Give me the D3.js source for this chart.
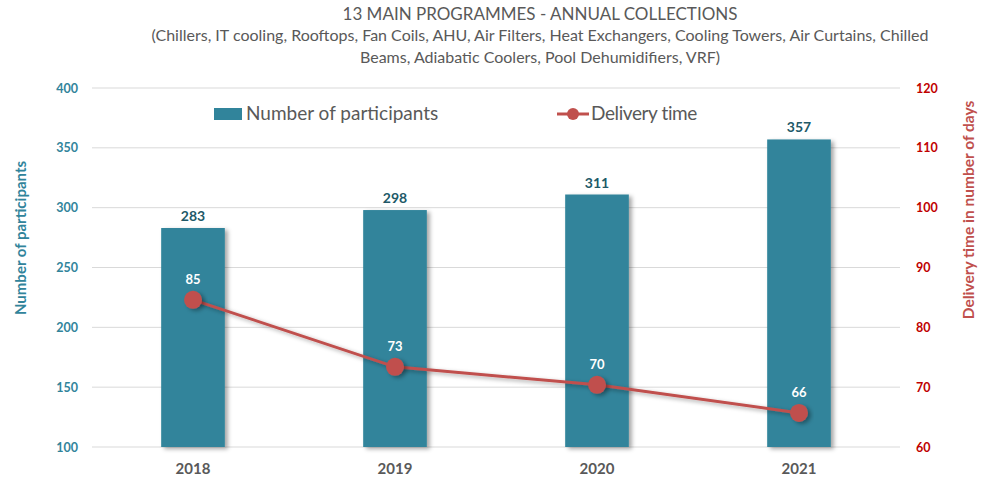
<!DOCTYPE html>
<html>
<head>
<meta charset="utf-8">
<script src="https://cdn.jsdelivr.net/npm/d3@7"></script>
<style>
  body { margin: 0; background: #fff; }
  svg { display: block; font-family: Lato, "Open Sans", sans-serif; }
</style>
</head>
<body>
<div id="chart"></div>
<script>
// chart values
const years = ["2018", "2019", "2020", "2021"]
const participants = [283, 298, 311, 357]
const deliveryDays = [84.6, 73.4, 70.4, 65.7]
const deliveryLabels = [85, 73, 70, 66]
const leftTicks = [100, 150, 200, 250, 300, 350, 400]
const rightTicks = [60, 70, 80, 90, 100, 110, 120]

const width = 1006, height = 494
const margin = {top: 88, right: 106, bottom: 47, left: 92}
const innerW = width - margin.left - margin.right
const innerH = height - margin.top - margin.bottom

const barColor = "#31849b"
const lineColor = "#c0504d"

const svg = d3.select("#chart").append("svg")
    .attr("width", width)
    .attr("height", height)

// drop shadows like the spreadsheet original
const defs = svg.append("defs")
defs.append("filter").attr("id", "shadow")
    .attr("x", "-20%").attr("y", "-20%").attr("width", "150%").attr("height", "150%")
  .append("feDropShadow")
    .attr("dx", 3).attr("dy", 2).attr("stdDeviation", 2)
    .attr("flood-color", "#000").attr("flood-opacity", 0.35)

// titles
svg.append("text")
    .attr("x", 540).attr("y", 20)
    .attr("text-anchor", "middle")
    .attr("fill", "#595959")
    .style("font-size", "17px")
    .text("13 MAIN PROGRAMMES - ANNUAL COLLECTIONS")

const subLines = [
  "(Chillers, IT cooling, Rooftops, Fan Coils, AHU, Air Filters, Heat Exchangers, Cooling Towers, Air Curtains, Chilled",
  "Beams, Adiabatic Coolers, Pool Dehumidifiers, VRF)"
]
svg.append("g").selectAll("text")
  .data(subLines)
  .join("text")
    .attr("x", 540)
    .attr("y", (d, i) => 41 + i * 22)
    .attr("text-anchor", "middle")
    .attr("fill", "#595959")
    .style("font-size", "16px")
    .text(d => d)

const g = svg.append("g")
    .attr("transform", `translate(${margin.left},${margin.top})`)

const x = d3.scaleBand()
    .domain(years)
    .range([0, innerW])
    .paddingInner(0.685)
    .paddingOuter(0.3425)

const yLeft = d3.scaleLinear()
    .domain([100, 400])
    .range([innerH, 0])

const yRight = d3.scaleLinear()
    .domain([60, 120])
    .range([innerH, 0])

// gridlines
g.append("g")
  .selectAll("line")
  .data(leftTicks)
  .join("line")
    .attr("x1", 0).attr("x2", innerW)
    .attr("y1", d => yLeft(d)).attr("y2", d => yLeft(d))
    .attr("stroke", "#d9d9d9")
    .attr("stroke-width", 1)

// left axis
const leftAxis = g.append("g")
    .call(d3.axisLeft(yLeft).tickValues(leftTicks).tickSize(0).tickPadding(14))
leftAxis.select(".domain").remove()
leftAxis.selectAll("text")
    .attr("fill", barColor)
    .style("font-size", "12.5px")
    .style("font-weight", "bold")
    .style("font-family", "Lato, sans-serif")

// right axis
const rightAxis = g.append("g")
    .attr("transform", `translate(${innerW},0)`)
    .call(d3.axisRight(yRight).tickValues(rightTicks).tickSize(0).tickPadding(16))
rightAxis.select(".domain").remove()
rightAxis.selectAll("text")
    .attr("fill", "#c00000")
    .style("font-size", "12.5px")
    .style("font-weight", "bold")
    .style("font-family", "Lato, sans-serif")

// x axis
const xAxis = g.append("g")
    .attr("transform", `translate(0,${innerH})`)
    .call(d3.axisBottom(x).tickSize(0).tickPadding(16))
xAxis.select(".domain").remove()
xAxis.selectAll("text")
    .attr("fill", "#595959")
    .style("font-size", "15px")
    .style("font-weight", "bold")
    .style("font-family", "Lato, sans-serif")

// axis titles
svg.append("text")
    .attr("transform", "translate(26,238) rotate(-90)")
    .attr("text-anchor", "middle")
    .attr("fill", barColor)
    .style("font-size", "15px")
    .style("font-weight", "bold")
    .text("Number of participants")

svg.append("text")
    .attr("transform", "translate(974,210) rotate(-90)")
    .attr("text-anchor", "middle")
    .attr("fill", lineColor)
    .style("font-size", "15.5px")
    .style("font-weight", "bold")
    .text("Delivery time in number of days")

// bars
g.append("g")
  .selectAll("rect")
  .data(participants)
  .join("rect")
    .attr("x", (d, i) => x(years[i]))
    .attr("y", d => yLeft(d))
    .attr("width", x.bandwidth())
    .attr("height", d => innerH - yLeft(d))
    .attr("fill", barColor)
    .attr("filter", "url(#shadow)")

g.append("g")
  .selectAll("text")
  .data(participants)
  .join("text")
    .attr("x", (d, i) => x(years[i]) + x.bandwidth() / 2)
    .attr("y", d => yLeft(d) - 7)
    .attr("text-anchor", "middle")
    .attr("fill", "#215968")
    .style("font-size", "14px")
    .style("font-weight", "bold")
    .text(d => d)

// line
const cx = i => x(years[i]) + x.bandwidth() / 2
const line = d3.line()
    .x((d, i) => cx(i))
    .y(d => yRight(d))

g.append("path")
    .datum(deliveryDays)
    .attr("d", line)
    .attr("fill", "none")
    .attr("stroke", lineColor)
    .attr("stroke-width", 3)
    .attr("filter", "url(#shadow)")

g.append("g")
  .selectAll("circle")
  .data(deliveryDays)
  .join("circle")
    .attr("cx", (d, i) => cx(i))
    .attr("cy", d => yRight(d))
    .attr("r", 9)
    .attr("fill", lineColor)
    .attr("filter", "url(#shadow)")

g.append("g")
  .selectAll("text")
  .data(deliveryDays)
  .join("text")
    .attr("x", (d, i) => cx(i))
    .attr("y", d => yRight(d) - 16)
    .attr("text-anchor", "middle")
    .attr("fill", "#fff")
    .style("font-size", "13px")
    .style("font-weight", "bold")
    .text((d, i) => deliveryLabels[i])

// legend
const legend = svg.append("g")
legend.append("rect")
    .attr("x", 214).attr("y", 108)
    .attr("width", 28).attr("height", 12)
    .attr("fill", barColor)
legend.append("text")
    .attr("x", 246).attr("y", 120)
    .attr("fill", "#595959")
    .style("font-size", "19px")
    .text("Number of participants")

legend.append("line")
    .attr("x1", 557).attr("x2", 589)
    .attr("y1", 114).attr("y2", 114)
    .attr("stroke", lineColor)
    .attr("stroke-width", 3)
legend.append("circle")
    .attr("cx", 573).attr("cy", 114).attr("r", 6)
    .attr("fill", lineColor)
legend.append("text")
    .attr("x", 591).attr("y", 120)
    .attr("fill", "#595959")
    .style("font-size", "19px")
    .style("letter-spacing", "-0.4px")
    .text("Delivery time")
</script>
</body>
</html>
